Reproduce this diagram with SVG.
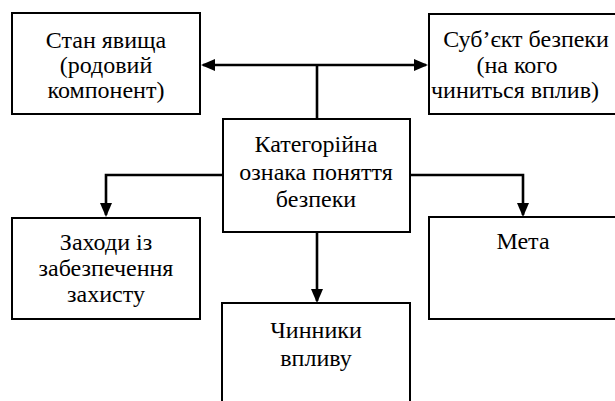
<svg xmlns="http://www.w3.org/2000/svg" width="615" height="401" viewBox="0 0 615 401">
<style>
.box{fill:#fff;stroke:#000;stroke-width:2}
.t{font-family:"Liberation Serif","Times New Roman",serif;font-size:24px;fill:#000;text-anchor:middle}
.c{fill:none;stroke:#000;stroke-width:2.6}
</style>
<defs>
<marker id="ah" markerUnits="userSpaceOnUse" markerWidth="14" markerHeight="12" refX="12" refY="6" orient="auto" overflow="visible">
<path d="M0,0 L14,6 L0,12 z" fill="#000"/>
</marker>
</defs>
<rect width="615" height="401" fill="#fff"/>
<g id="connectors">
<path class="c" d="M317,65 L203,65" marker-end="url(#ah)"/>
<path class="c" d="M317,65 L426,65" marker-end="url(#ah)"/>
<path class="c" d="M317,65 L317,119"/>
<path class="c" d="M223,175 L106,175 L106,215" marker-end="url(#ah)"/>
<path class="c" d="M410,175 L523,175 L523,215" marker-end="url(#ah)"/>
<path class="c" d="M317,232 L317,301" marker-end="url(#ah)"/>
</g>
<g id="stan">
<rect class="box" x="12" y="13" width="188" height="101"/>
<text class="t" x="106" y="48">Стан явища</text>
<text class="t" x="106" y="73">(родовий</text>
<text class="t" x="106" y="98">компонент)</text>
</g>
<g id="subiekt">
<rect class="box" x="429" y="14" width="200" height="100"/>
<text class="t" x="526" y="47">Суб’єкт безпеки</text>
<text class="t" x="517" y="73">(на кого</text>
<text class="t" x="515" y="98">чиниться вплив)</text>
</g>
<g id="katehoriina">
<rect class="box" x="223" y="119" width="187" height="113"/>
<text class="t" x="316" y="152">Категорійна</text>
<text class="t" x="316" y="180">ознака поняття</text>
<text class="t" x="316" y="207">безпеки</text>
</g>
<g id="zakhody">
<rect class="box" x="12" y="218" width="188" height="101"/>
<text class="t" x="106" y="250">Заходи із</text>
<text class="t" x="106" y="276">забезпечення</text>
<text class="t" x="106" y="302">захисту</text>
</g>
<g id="meta">
<rect class="box" x="429" y="217" width="200" height="102"/>
<text class="t" x="523" y="249">Мета</text>
</g>
<g id="chynnyky">
<rect class="box" x="222" y="303" width="188" height="120"/>
<text class="t" x="316" y="338">Чинники</text>
<text class="t" x="316" y="366">впливу</text>
</g>
</svg>
